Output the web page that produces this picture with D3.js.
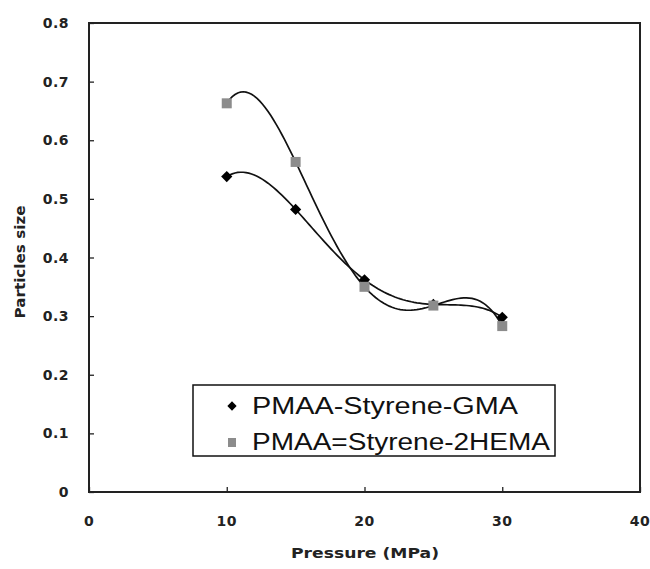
<!DOCTYPE html>
<html>
<head>
<meta charset="utf-8">
<script src="https://cdn.jsdelivr.net/npm/d3@7"></script>
<style>
  body { margin: 0; background: #fff; }
  svg { display: block; }
</style>
</head>
<body>
<svg width="650" height="569"></svg>
<script>
// pressure (MPa) and particle size for both series
var pressure = [10, 15, 20, 25, 30];
var gmaSize = [0.538, 0.482, 0.362, 0.32, 0.298];
var hemaSize = [0.663, 0.563, 0.35, 0.318, 0.283];
var seriesNames = ["PMAA-Styrene-GMA", "PMAA=Styrene-2HEMA"];
var xTicks = [0, 10, 20, 30, 40];
var yTicks = [0, 0.1, 0.2, 0.3, 0.4, 0.5, 0.6, 0.7, 0.8];

var svg = d3.select("svg");
// note: "top" is taken by window.top, so use plot* names
var plotLeft = 89, plotRight = 640, plotTop = 23, plotBottom = 492;

var x = d3.scaleLinear().domain([0, 40]).range([plotLeft, plotRight]);
var y = d3.scaleLinear().domain([0, 0.8]).range([plotBottom, plotTop]);

var tickFont = "'DejaVu Sans', sans-serif";

// plot frame
svg.append("rect")
   .attr("x", plotLeft).attr("y", plotTop)
   .attr("width", plotRight - plotLeft).attr("height", plotBottom - plotTop)
   .attr("fill", "none")
   .attr("stroke", "#222")
   .attr("stroke-width", 2);

// axes, ticks pointing inwards
var yAxis = svg.append("g")
   .attr("transform", "translate(" + plotLeft + ",0)")
   .call(d3.axisRight(y).tickValues(yTicks).tickSize(5).tickFormat(""));
var xAxis = svg.append("g")
   .attr("transform", "translate(0," + plotBottom + ")")
   .call(d3.axisTop(x).tickValues(xTicks).tickSize(5).tickFormat(""));
[xAxis, yAxis].forEach(function(a)
{
  a.select(".domain").remove();
  a.selectAll("line").attr("stroke", "#222").attr("stroke-width", 1.3);
});

svg.append("g").selectAll("text")
   .data(yTicks)
   .enter()
   .append("text")
   .attr("x", 69)
   .attr("y", function(d) { return y(d) + 5; })
   .attr("text-anchor", "end")
   .attr("font-family", tickFont)
   .attr("font-weight", "bold")
   .attr("font-size", 14)
   .attr("letter-spacing", 0.5)
   .attr("fill", "#222")
   .text(function(d) { return d === 0 ? "0" : d3.format(".1f")(d); });

svg.append("g").selectAll("text")
   .data(xTicks)
   .enter()
   .append("text")
   .attr("x", function(d) { return x(d); })
   .attr("y", 526)
   .attr("text-anchor", "middle")
   .attr("font-family", tickFont)
   .attr("font-weight", "bold")
   .attr("font-size", 14)
   .attr("letter-spacing", 0.5)
   .attr("fill", "#222")
   .text(function(d) { return d; });

svg.append("text")
   .attr("x", 365).attr("y", 558)
   .attr("text-anchor", "middle")
   .attr("font-family", tickFont)
   .attr("font-weight", "bold")
   .attr("font-size", 14)
   .attr("fill", "#222")
   .attr("textLength", 148)
   .attr("lengthAdjust", "spacingAndGlyphs")
   .text("Pressure (MPa)");

svg.append("text")
   .attr("transform", "translate(25,262) rotate(-90)")
   .attr("text-anchor", "middle")
   .attr("font-family", tickFont)
   .attr("font-weight", "bold")
   .attr("font-size", 14)
   .attr("fill", "#222")
   .attr("textLength", 113)
   .attr("lengthAdjust", "spacingAndGlyphs")
   .text("Particles size");

// 4th order polynomial trendline (passes through the 5 points)
function poly(xs, ys)
{
  return function(v)
  {
    var s = 0;
    for (var i = 0; i < xs.length; i++)
    {
      var w = 1;
      for (var j = 0; j < xs.length; j++)
        if (j != i) w *= (v - xs[j]) / (xs[i] - xs[j]);
      s += w * ys[i];
    }
    return s;
  };
}

var steps = d3.range(pressure[0], pressure[pressure.length - 1] + 0.01, 0.2);
var line = d3.line()
   .x(function(d) { return x(d[0]); })
   .y(function(d) { return y(d[1]); });

[gmaSize, hemaSize].forEach(function(vals)
{
  var f = poly(pressure, vals);
  svg.append("path")
     .attr("d", line(steps.map(function(v) { return [v, f(v)]; })))
     .attr("fill", "none")
     .attr("stroke", "#111")
     .attr("stroke-width", 1.7);
});

var diamond = d3.symbol().type(d3.symbolDiamond2).size(80);

svg.append("g").selectAll("path")
   .data(gmaSize)
   .enter()
   .append("path")
   .attr("d", diamond)
   .attr("transform", function(d, i) { return "translate(" + x(pressure[i]) + "," + y(d) + ")"; })
   .attr("fill", "#000");

svg.append("g").selectAll("rect")
   .data(hemaSize)
   .enter()
   .append("rect")
   .attr("x", function(d, i) { return x(pressure[i]) - 5; })
   .attr("y", function(d) { return y(d) - 5; })
   .attr("width", 10).attr("height", 10)
   .attr("fill", "#8c8c8c");

// legend
var lg = svg.append("g");
lg.append("rect")
  .attr("x", 193).attr("y", 385)
  .attr("width", 362).attr("height", 71)
  .attr("fill", "#fff")
  .attr("stroke", "#111")
  .attr("stroke-width", 1.5);

lg.append("path")
  .attr("d", d3.symbol().type(d3.symbolDiamond2).size(55))
  .attr("transform", "translate(232,406)")
  .attr("fill", "#000");
lg.append("rect")
  .attr("x", 228).attr("y", 438)
  .attr("width", 8).attr("height", 9)
  .attr("fill", "#8c8c8c");

lg.selectAll("text")
  .data(seriesNames)
  .enter()
  .append("text")
  .attr("x", 252)
  .attr("y", function(d, i) { return 414 + i * 36; })
  .attr("font-family", "'Liberation Sans', Arial, sans-serif")
  .attr("font-size", 23)
  .attr("fill", "#111")
  .attr("textLength", function(d, i) { return i == 0 ? 266 : 298; })
  .attr("lengthAdjust", "spacingAndGlyphs")
  .text(function(d) { return d; });
</script>
</body>
</html>
